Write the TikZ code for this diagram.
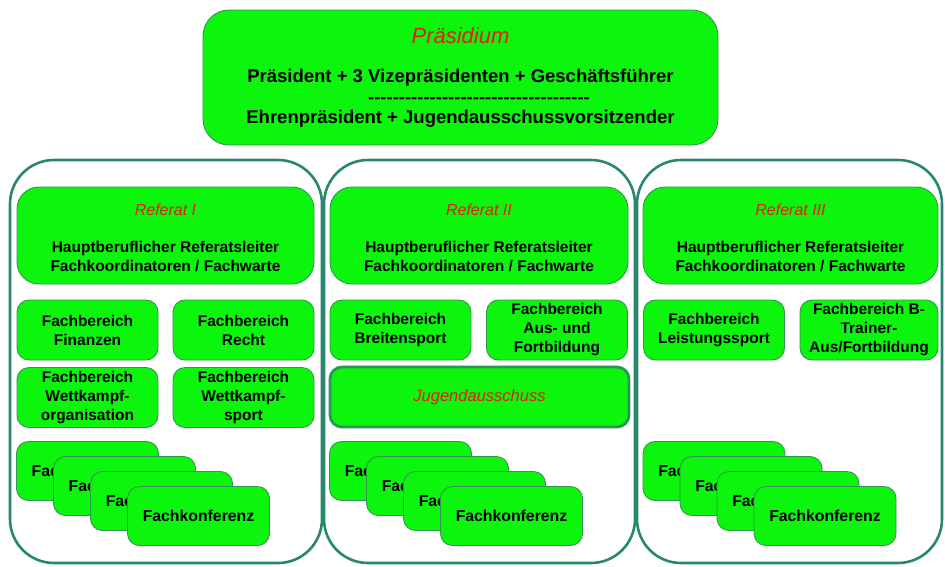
\documentclass[tikz,border=0pt]{standalone}
\usepackage{fontspec}
\newfontfamily\af{Liberation Sans}
\definecolor{boxgreen}{RGB}{12,245,12}
\definecolor{boxedge}{RGB}{50,150,80}
\definecolor{jugedge}{RGB}{40,150,85}
\definecolor{contedge}{RGB}{40,135,110}
\definecolor{titlered}{RGB}{225,30,15}
\begin{document}
\begin{tikzpicture}[x=1pt,y=-1pt,
  container/.style={draw=contedge,line width=2.6pt,rounded corners=44pt,minimum width=#1,minimum height=403pt,inner sep=0pt},
  gbox/.style={draw=boxedge,line width=0.9pt,fill=boxgreen,inner sep=0pt,align=center,
     font=\af\bfseries\fontsize{15.5}{19}\selectfont},
  bigbox/.style={gbox,rounded corners=22pt},
  fbbox/.style={gbox,rounded corners=12pt,minimum width=141pt,minimum height=60pt},
  fkbox/.style={gbox,rounded corners=12pt,minimum width=142pt,minimum height=59pt,font=\af\bfseries\fontsize{15.8}{19}\selectfont},
  redtitle/.style={inner sep=0pt,text=titlered,font=\af\itshape\fontsize{16}{19}\selectfont},
  btext/.style={inner sep=0pt,align=center,font=\af\bfseries\fontsize{15.5}{19}\selectfont},
  ptext/.style={inner sep=0pt,align=center,font=\af\bfseries\fontsize{18.5}{20}\selectfont}
]
\useasboundingbox (0,0) rectangle (945,566);
\fill[white] (0,0) rectangle (945,566);

% Praesidium
\node[bigbox,rounded corners=26pt,minimum width=515pt,minimum height=135pt] (praes) at (460.5,77.5) {};
\node[inner sep=0pt,text=titlered,font=\af\itshape\fontsize{22}{24}\selectfont] (praesT) at (460.5,36) {Präsidium};
\node[ptext] (praesL1) at (460.5,78) {Präsident + 3 Vizepräsidenten + Geschäftsführer};
\node[ptext] (praesL2) at (479,100.5) {\foreach \i in {1,...,36}{-}};
\node[ptext] (praesL3) at (460.5,118.5) {Ehrenpräsident + Jugendausschussvorsitzender};

% containers
\node[container=312pt] (c1) at (166,361.5) {};
\node[container=311pt] (c2) at (479.5,361.5) {};
\node[container=305pt] (c3) at (789.5,361.5) {};

% Referat boxes
\node[bigbox,minimum width=297pt,minimum height=97pt] (r1) at (165.5,235.5) {};
\node[bigbox,minimum width=298pt,minimum height=97pt] (r2) at (479,235.5) {};
\node[bigbox,minimum width=295pt,minimum height=97pt] (r3) at (790.5,235.5) {};
\node[redtitle] (r1T) at (165.5,210) {Referat I};
\node[redtitle] (r2T) at (479,210) {Referat II};
\node[redtitle] (r3T) at (790.5,210) {Referat III};
\node[btext] (r1L) at (165.5,257) {Hauptberuflicher Referatsleiter\\Fachkoordinatoren / Fachwarte};
\node[btext] (r2L) at (479,257) {Hauptberuflicher Referatsleiter\\Fachkoordinatoren / Fachwarte};
\node[btext] (r3L) at (790.5,257) {Hauptberuflicher Referatsleiter\\Fachkoordinatoren / Fachwarte};

% Fachbereiche Referat I
\node[fbbox] (fin) at (87.5,330) {Fachbereich\\Finanzen};
\node[fbbox] (recht) at (243.5,330) {Fachbereich\\Recht};
\node[fbbox] (wko) at (87.5,397.5) {Fachbereich\\Wettkampf-\\organisation};
\node[fbbox] (wks) at (243.5,397.5) {Fachbereich\\Wettkampf-\\sport};

% Fachbereiche Referat II
\node[fbbox] (breit) at (400.5,330) {Fachbereich\\Breitensport};
\node[fbbox] (aus) at (557,330) {Fachbereich\\Aus- und\\Fortbildung};
\node[gbox,rounded corners=12pt,draw=jugedge,line width=2.8pt,minimum width=299pt,minimum height=60pt,
  text=titlered,font=\af\itshape\fontsize{16.5}{19}\selectfont] (jugend) at (479.5,397) {Jugendausschuss};

% Fachbereiche Referat III
\node[fbbox] (leist) at (714,330) {Fachbereich\\Leistungssport};
\node[fbbox,minimum width=138pt] (btr) at (869,330) {Fachbereich B-\\Trainer-\\Aus/Fortbildung};

% Fachkonferenz stacks
\foreach \bx/\s in {87.5/a,400.5/b,714/c}{
  \foreach \k in {0,1,2,3}{
    \node[fkbox] (fk\s\k) at ({\bx+37*\k},{471+15*\k}) {Fachkonferenz};
  }
}
\end{tikzpicture}
\end{document}
